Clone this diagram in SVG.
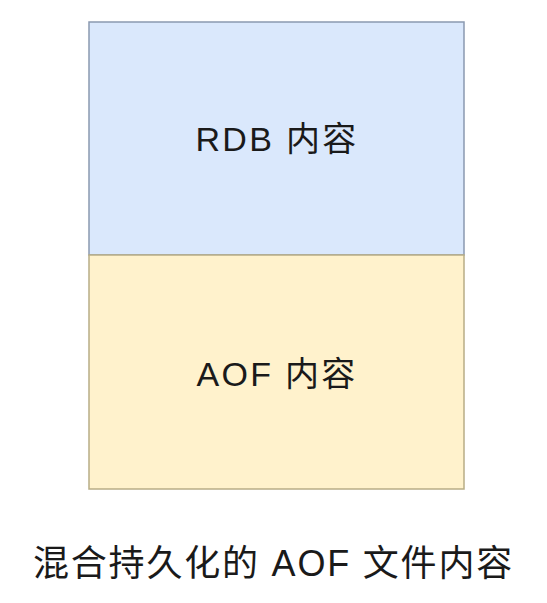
<svg xmlns="http://www.w3.org/2000/svg" width="547" height="603" viewBox="0 0 547 603">
<style>
.t{font-family:"Liberation Sans","Noto Sans CJK SC",sans-serif;fill:#1a1a1a;text-anchor:middle}
.n{font-size:34px;letter-spacing:2.3px}
.c{font-size:36px;letter-spacing:1.8px}
</style>
<rect width="547" height="603" fill="#ffffff"/>
<g id="rdb">
<rect x="89" y="22" width="375" height="233" fill="#dae8fc" stroke="#8a99b0" stroke-width="1.5"/>
<text class="t n" x="277" y="151">RDB 内容</text>
</g>
<g id="aof">
<rect x="89" y="255" width="375" height="234" fill="#fff2cc" stroke="#b8ad86" stroke-width="1.5"/>
<text class="t n" x="277" y="386">AOF 内容</text>
</g>
<g id="connectors"></g>
<g id="caption">
<text class="t c" x="273.5" y="576">混合持久化的 AOF 文件内容</text>
</g>
</svg>
